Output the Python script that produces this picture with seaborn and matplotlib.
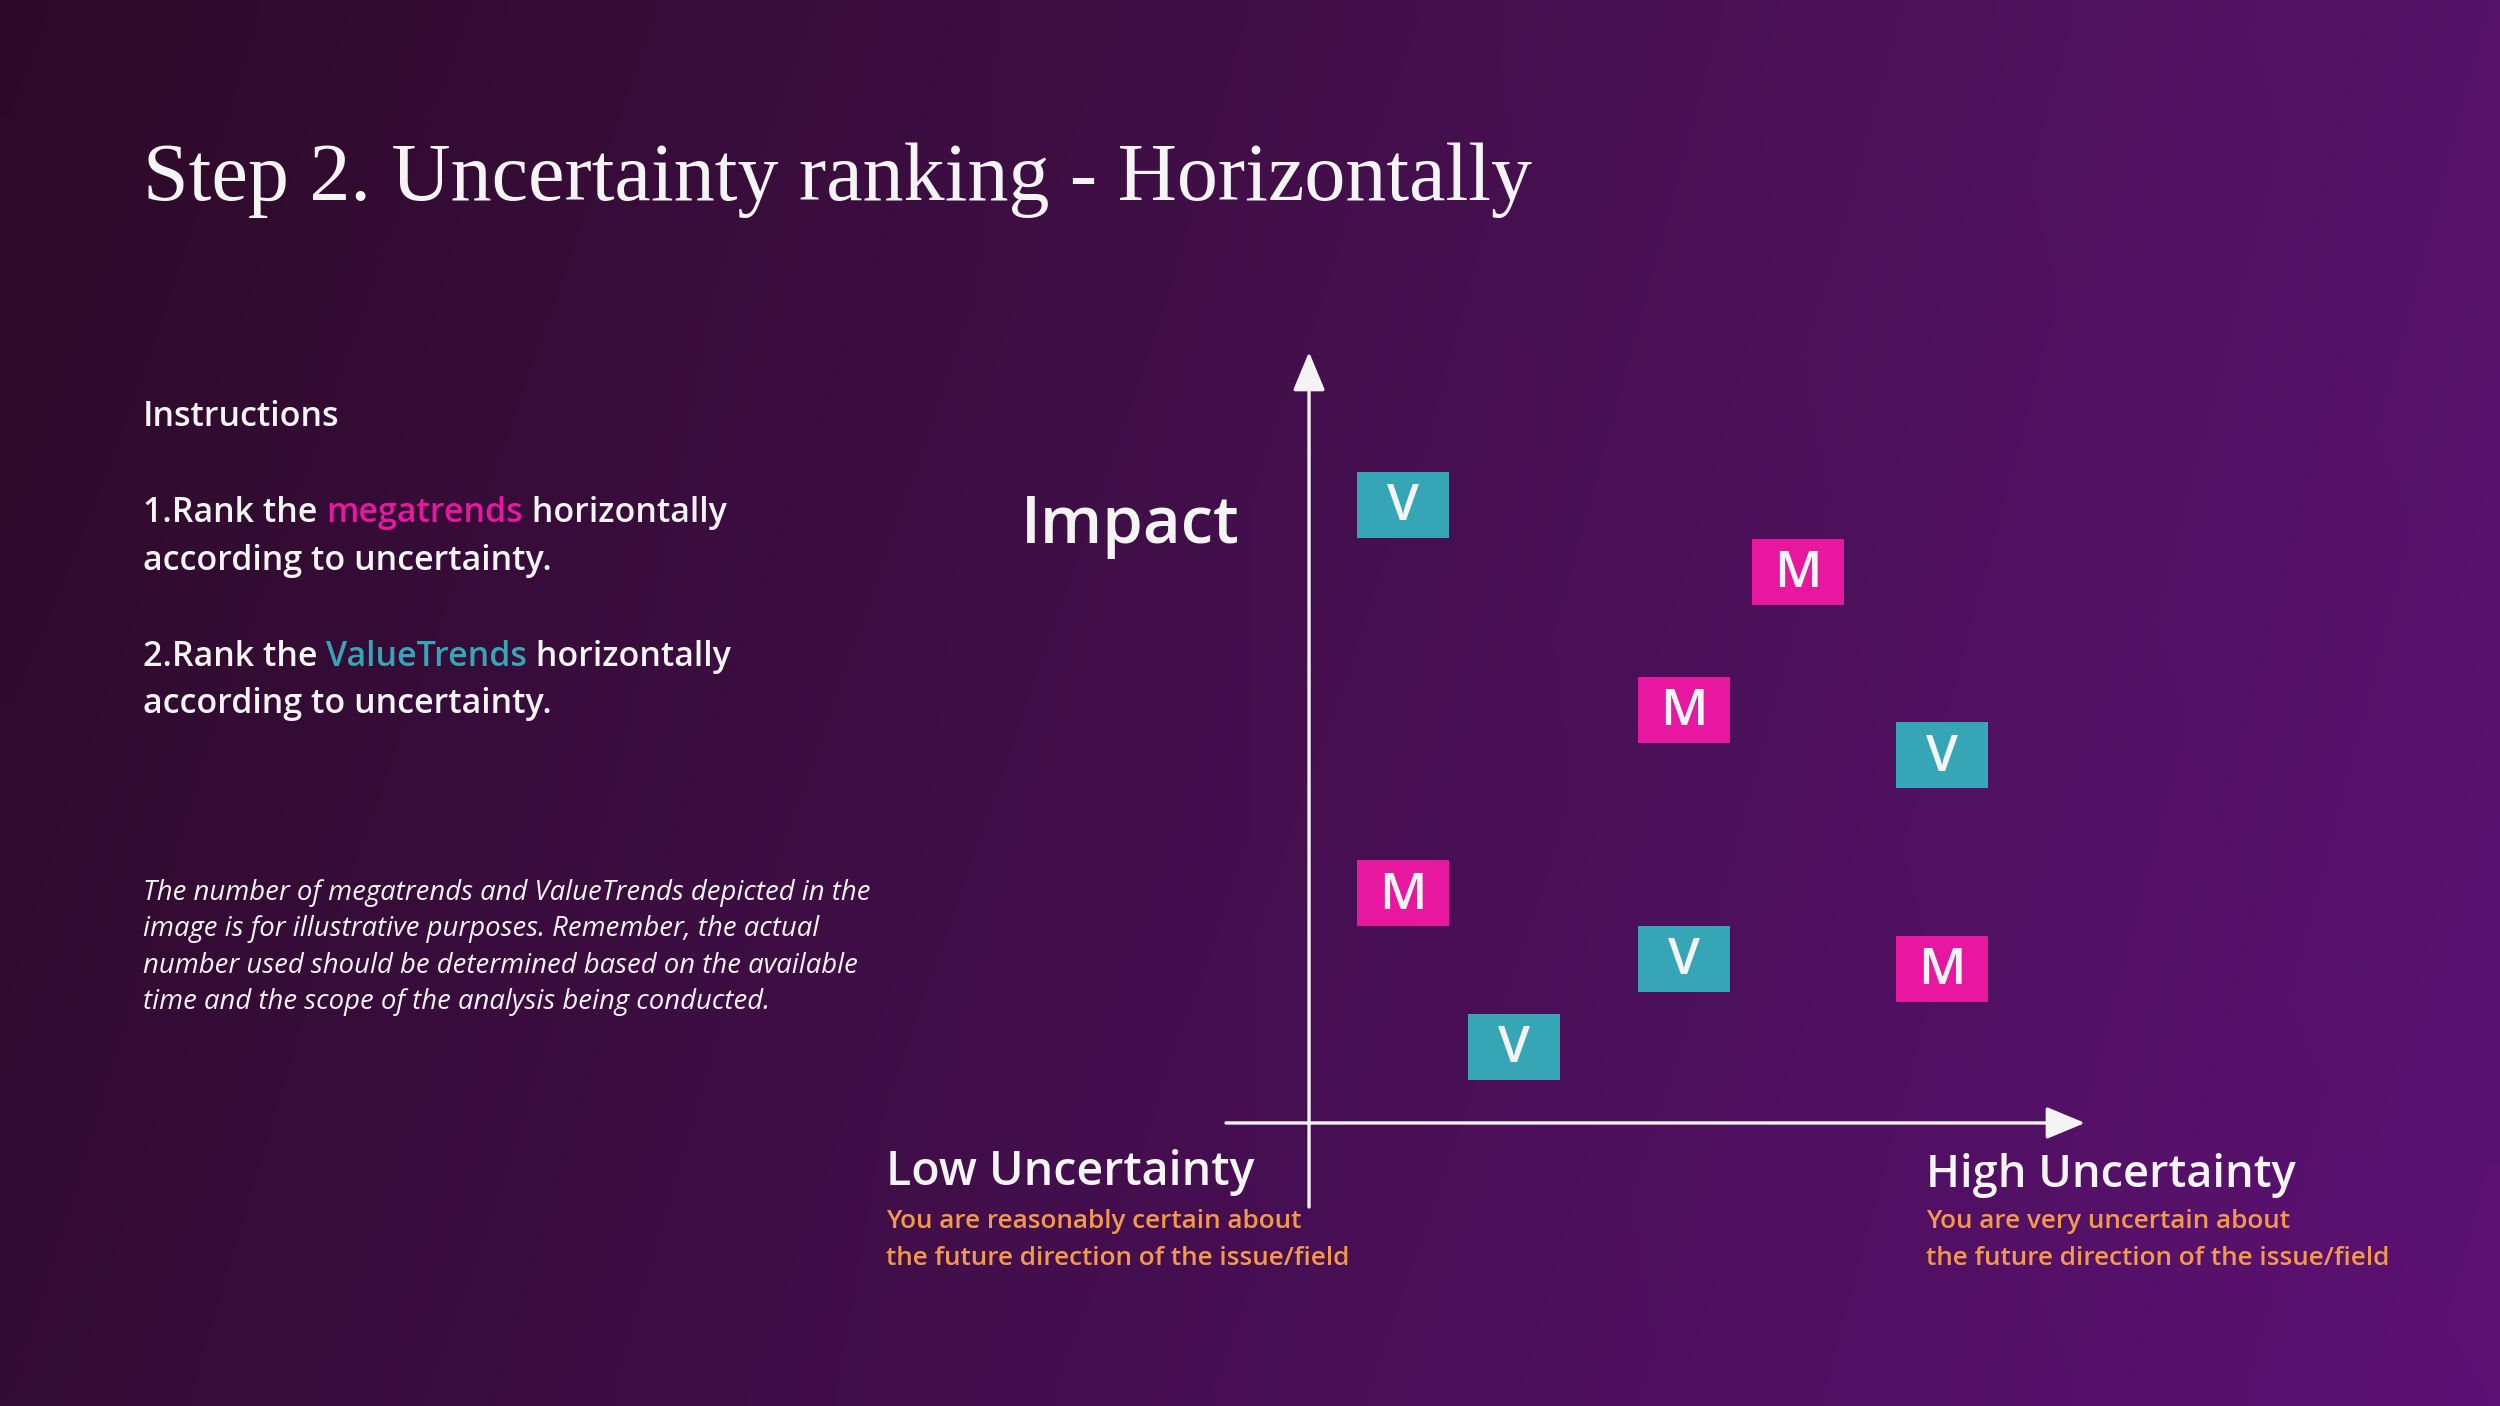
import numpy as np
import pandas as pd
import matplotlib
matplotlib.use("Agg")
import matplotlib.pyplot as plt
from matplotlib.path import Path
import seaborn as sns

# trend boxes: uncertainty (x) vs impact (y), 0-10 scale
kinds = ["V", "M", "M", "V", "M", "V", "M", "V"]
uncertainty = [1.21, 6.30, 4.83, 8.16, 1.21, 4.83, 8.16, 2.64]
impact = [8.02, 7.15, 5.36, 4.77, 2.98, 2.13, 2.00, 0.99]

title = "Step 2. Uncertainty ranking - Horizontally"
note_lines = [
    "The number of megatrends and ValueTrends depicted in the",
    "image is for illustrative purposes. Remember, the actual",
    "number used should be determined based on the available",
    "time and the scope of the analysis being conducted.",
]
low_lines = ["You are reasonably certain about", "the future direction of the issue/field"]
high_lines = ["You are very uncertain about", "the future direction of the issue/field"]

PINK = "#e8179f"
TEAL = "#36a6b7"
ORANGE = "#f39a4a"
WHITE = "#f4f4f4"
SANS = ["Open Sans", "DejaVu Sans"]
SERIF = ["Liberation Serif", "DejaVu Serif"]

sns.set_theme(style="white")
plt.rcParams["font.family"] = SANS

W, H = 2500, 1406
fig = plt.figure(figsize=(25, 14.06), dpi=100)

# background gradient
bg = fig.add_axes([0, 0, 1, 1])
tl = np.array([44, 10, 39]) / 255
tr = np.array([86, 20, 104]) / 255
bl = np.array([51, 12, 52]) / 255
br = np.array([92, 18, 116]) / 255
u = np.linspace(0, 1, 120)[None, :, None]
v = np.linspace(0, 1, 70)[:, None, None]
grad = (1 - v) * ((1 - u) * tl + u * tr) + v * ((1 - u) * bl + u * br)
bg.imshow(grad, extent=[0, W, H, 0], aspect="auto", interpolation="bilinear")
bg.set_xlim(0, W)
bg.set_ylim(H, 0)
bg.axis("off")

renderer = fig.canvas.get_renderer()


def adv(s, **kw):
    # advance width of s in pixels (pipe trick keeps trailing spaces)
    t1 = bg.text(0, 0, s + "|", **kw)
    t2 = bg.text(0, 0, "|", **kw)
    w = t1.get_window_extent(renderer).width - t2.get_window_extent(renderer).width
    t1.remove()
    t2.remove()
    return w


def rich_line(x, y, parts, **kw):
    for s, c in parts:
        bg.text(x, y, s, color=c, va="baseline", ha="left", **kw)
        x += adv(s, **kw)


bg.text(143, 200, title, color=WHITE, fontsize=59, family=SERIF, va="baseline")

body = dict(fontsize=24.5, family=SANS, fontweight="semibold")
bg.text(143, 426, "Instructions", color=WHITE, va="baseline", **body)
rich_line(143, 522, [("1.Rank the ", WHITE), ("megatrends", PINK), (" horizontally", WHITE)], **body)
bg.text(143, 570, "according to uncertainty.", color=WHITE, va="baseline", **body)
rich_line(143, 666, [("2.Rank the ", WHITE), ("ValueTrends", TEAL), (" horizontally", WHITE)], **body)
bg.text(143, 713, "according to uncertainty.", color=WHITE, va="baseline", **body)

for i, line in enumerate(note_lines):
    bg.text(143, 900 + i * 36.3, line, color=WHITE, fontsize=19.8, style="italic",
            family=SANS, va="baseline")

bg.text(1021, 543, "Impact", color=WHITE, fontsize=47, fontweight="semibold",
        family=SANS, va="baseline")

bg.text(886, 1185, "Low Uncertainty", color=WHITE, fontsize=33.5, fontweight="semibold",
        family=SANS, va="baseline")
bg.text(1926, 1187, "High Uncertainty", color=WHITE, fontsize=32.5, fontweight="semibold",
        family=SANS, va="baseline")
for i, line in enumerate(low_lines):
    bg.text(886, 1228 + i * 37, line, color=ORANGE, fontsize=18.8, fontweight="semibold",
            family=SANS, va="baseline")
for i, line in enumerate(high_lines):
    bg.text(1926, 1228 + i * 37, line, color=ORANGE, fontsize=18.8, fontweight="semibold",
            family=SANS, va="baseline")

# chart axes: origin where the arrows cross
xlo, ylo = -1.07, -1.09
ax = fig.add_axes([1226 / W, (H - 1207) / H, 859 / W, 855 / H])
ax.patch.set_alpha(0)
ax.set_xlim(xlo, 10)
ax.set_ylim(ylo, 10)
ax.axis("off")

arrow = dict(arrowstyle="-|>,head_length=24,head_width=10", mutation_scale=1,
             lw=2.4, color=WHITE, shrinkA=0, shrinkB=0)
ax.annotate("", xy=(10, 0), xytext=(xlo, 0), arrowprops=arrow, annotation_clip=False)
ax.annotate("", xy=(0, 10), xytext=(0, ylo), arrowprops=arrow, annotation_clip=False)

df = pd.DataFrame({"kind": kinds, "uncertainty": uncertainty, "impact": impact})
box = Path([(-0.5, -0.359), (0.5, -0.359), (0.5, 0.359), (-0.5, 0.359), (-0.5, -0.359)],
           [Path.MOVETO, Path.LINETO, Path.LINETO, Path.LINETO, Path.CLOSEPOLY])
sns.scatterplot(data=df, x="uncertainty", y="impact", hue="kind",
                palette={"M": PINK, "V": TEAL}, marker=box, s=4380,
                linewidth=0, edgecolor="none", legend=False, ax=ax, zorder=3)
for k, xx, yy in zip(df["kind"], df["uncertainty"], df["impact"]):
    ax.text(xx, yy - 0.03, k, color=WHITE, fontsize=37, fontweight="semibold",
            family=SANS, ha="center", va="center", zorder=4)

fig.savefig("out.png", dpi=100)
